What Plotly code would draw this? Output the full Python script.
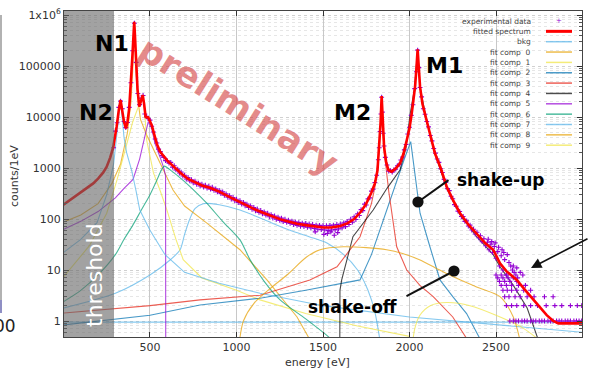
import math
import plotly.graph_objects as go

# ---------------- data ----------------
fit_pts = [(0,190),(30,225),(70,280),(100,330),(140,410),(172,500),(200,620),(230,820),(250,1060),(270,1600),
           (288,2600),(300,4300),(307,6400),(320,14000),(330,21500),
           (340,13000),(350,8000),(361,6000),(370,8000),(380,15000),(390,45000),(398,150000),(405,420000),
           (409,740000),(413,400000),(420,120000),(428,35000),(438,16000),(448,20000),(458,27000),(466,18000),
           (475,10000),(490,9800),(510,6900),(539,3000),(558,2100),(600,1400),(640,1040),(680,780),(720,610),
           (760,520),(800,455),(850,405),(900,345),(950,282),(1000,230),(1050,192),(1100,158),(1150,134),
           (1200,115),(1250,99.5),(1300,89),(1350,80.5),(1400,76),(1450,71),(1500,68),(1550,68.5),(1600,73),
           (1640,82),(1680,100),(1720,140),(1750,200),(1780,330),(1800,500),(1815,900),(1825,2600),(1833,8000),
           (1839,25800),(1845,8000),(1853,2600),(1865,1300),(1878,915),(1897,850),(1920,980),(1945,1230),
           (1965,1900),(1984,3500),(2000,6000),(2013,11800),(2025,24000),(2032,39000),(2040,90000),(2047,213000),
           (2054,90000),(2061,39000),(2075,18000),(2099,8700),(2120,4500),(2147,1950),(2180,1000),(2215,430),
           (2250,240),(2292,130),(2340,78),(2388,52),(2440,33),(2484,25),(2523,13.5),(2560,9.5),(2620,6.4),
           (2670,4.0),(2716,2.6),(2760,1.8),(2793,1.3),(2831,1.0),(2860,0.9),(3000,0.9)]

exp_a_e = list(range(290, 601, 10))
exp_a_v = [2500,5300,7700,15500,20500,14500,8200,6200,7800,15500,47000,200000,690000,118000,29000,17500,
           23500,26500,11500,10300,9300,8700,6600,5100,3700,3100,2350,2100,1750,1620,1400,1390]
exp_b_e = list(range(610, 1801, 10))
exp_b_v = [1250,1290,1040,1110,920,950,800,830,700,720,610,650,560,590,515,550,480,505,445,480,
           425,460,405,440,385,420,365,390,340,365,315,340,292,312,268,287,247,265,228,244,
           211,228,196,212,182,196,168,181,155,168,145,157,135,147,127,138,119,130,111,122,
           105,115,99,109,94,104,89,99,86,95,82,91,78,88,75,85,72,83,71,82,
           69,80,67,78,65,76,63,75,62,74,61,74,60,75,61,76,62,78,64,80,
           67,84,71,90,78,99,87,110,98,126,117,153,146,196,188,248,260,352,385,520]
exp_c_pts = [(1810,720),(1820,1450),(1825,2500),(1830,5200),(1835,11500),(1839,24500),(1843,12500),(1848,4800),
             (1853,2700),(1860,1620),(1870,1150),(1880,870),(1890,890),(1900,830),(1910,930),(1920,950),
             (1930,1110),(1940,1160),(1950,1440),(1960,1650),(1970,2270),(1980,2900),(1990,4650),(2000,6300),
             (2010,10800),(2020,17400),(2030,36000),(2040,77000),(2047,205000),(2054,93000),(2061,38000),
             (2070,24800),(2080,14500),(2090,11300),(2100,8200)]
exp_d_e = list(range(2110, 2561, 10))
exp_d_v = [6400,4350,3400,2420,1960,1500,1290,970,815,600,520,395,360,280,250,192,178,143,140,112,
           112,90,92,73,76,61,63,51,55,43,47,36,41,30,35,25,32,22,29,17,23,12,19,10,16,8]
exp_extra_pts = [(1455,56),(1505,50),(1525,52),(1545,56),(1565,48),(1585,54),(2455,40),(2475,36),(2495,34),
                 (2515,28),(2535,25),(2545,22),(2565,20),(2575,14),(2585,12),(2595,10),(2600,12),(2605,9),
                 (2615,8),(2620,11),(2625,7),(2640,9),(2655,8)]
tail_rows = {
    1: [2580,2600,2615,2630,2650,2665,2680,2700,2715,2730,2750,2765,2780,2800,2815,2830,2850,2865,2880,2900,
        2915,2930,2950,2965,2980,2995],
    2: [2560,2590,2620,2660,2700,2740,2790,2840,2880,2930,2970,2995],
    3: [2550,2575,2610,2640,2680,2720,2780,2830],
    4: [2540,2565,2590,2620,2660,2700],
    5: [2530,2560,2590,2630,2670],
    6: [2520,2550,2580,2620],
    7: [2510,2540,2570,2600],
    8: [2500,2530,2560],
}

# (name, colour, smooth?, points)
components = [
    ("bkg", "#56b4e9", True, [(0,1.8),(300,3.5),(500,8),(616,15.7),(674,25),(700,50),(730,100),(760,160),(808,200),
                             (900,190),(1020,150),(1150,100),(1309,60),(1420,45),(1523,34),(1620,20),(1700,10),
                             (1760,4),(1800,1.5),(1830,0.4)]),
    ("bkg", "#56b4e9", False, [(0,0.95),(3000,0.95)]),
    ("fit comp  0", "#e69f00", False, [(0,87),(100,120),(200,200),(280,500),(330,1200),(370,5000),(390,20000),(400,80000),
                                      (405,300000),(409,700000),(413,300000),(418,90000),(428,25000),(445,9000),(480,4500),
                                      (517,2500),(560,1200),(633,370),(700,180),(829,83),(1020,25),(1176,6.4),(1350,1.2),(1450,0.3)]),
    ("fit comp  1", "#f0e442", False, [(0,7.3),(150,30),(250,130),(309,580),(360,2500),(400,8000),(430,15000),(450,24000),
                                      (458,26000),(466,18000),(481,3500),(520,800),(560,350),(598,150),(650,40),(692,16),
                                      (800,7),(1000,4),(1136,2.6),(1400,1.4),(1700,0.8),(2000,0.5)]),
    ("fit comp  2", "#0072b2", False, [(0,0.84),(500,1.3),(789,2.06),(1136,2.8),(1400,4),(1600,5.5),(1714,6.4),(1780,20),
                                      (1829,61),(1880,200),(1926,580),(1970,1500),(2007,3300),(2020,1500),(2032,580),
                                      (2061,130),(2118,28.6),(2176,6.4),(2250,3),(2330,1.4),(2407,0.45)]),
    ("fit comp  3", "#e51e10", False, [(0,1.43),(500,2.0),(789,2.6),(1136,3.2),(1424,6.4),(1581,11.6),(1714,45),(1780,200),
                                      (1800,420),(1825,2200),(1835,9000),(1839,25000),(1843,9000),(1853,2200),(1880,350),
                                      (1926,28.6),(1984,10),(2060,5),(2137,3),(2250,1.2),(2331,0.45)]),
    ("fit comp  4", "#000000", False, [(1597,0.3),(1598,4),(1608,6.4),(1673,45),(1790,150),(1870,400),(1945,915),(1980,2500),
                                      (2003,11000),(2030,38000),(2047,213000),(2061,38000),(2099,8500),(2147,1900),(2215,400),
                                      (2292,120),(2388,45),(2484,20),(2523,11.6),(2600,5),(2680,1.8),(2735,0.55),(2760,0.3)]),
    ("fit comp  5", "#9400d3", False, [(0,63),(100,90),(200,140),(300,260),(350,400),(402,600),(440,1500),(470,4500),
                                      (490,8100),(510,6000),(529,3000),(558,1650),(580,1000),(590,700),(591,0.3)]),
    ("fit comp  6", "#009e73", True, [(0,2.4),(100,4),(200,8),(300,20),(350,40),(400,75),(450,150),(500,300),(540,580),
                                     (565,900),(583,1090),(620,900),(690,580),(760,350),(828,205),(920,90),(1020,39),
                                     (1078,16),(1160,6),(1252,2.6),(1400,1.1),(1529,0.5),(1560,0.4)]),
    ("fit comp  7", "#56b4e9", False, [(0,22),(100,40),(194,85),(250,300),(290,1200),(310,4500),(320,10000),(326,17000),
                                      (329,20500),(332,17000),(338,10000),(350,4000),(365,2000),(380,1300),(394,900),
                                      (420,350),(441,150),(500,60),(587,20),(700,9),(900,5.5),(1136,3.5),(1500,2),
                                      (2000,1.2),(3000,0.6)]),
    ("fit comp  8", "#e69f00", True, [(1017,0.4),(1040,1.0),(1100,2.2),(1200,4.5),(1292,8),(1405,18),(1483,25),(1617,28.6),
                                     (1750,27.5),(1868,25),(1960,21),(2061,15.7),(2150,11),(2252,7.4),(2400,4.5),
                                     (2523,3.0),(2600,1.2),(2640,0.4)]),
    ("fit comp  9", "#f0e442", True, [(2015,0.3),(2030,0.7),(2060,1.3),(2120,2.0),(2215,2.3),(2350,2.0),(2500,1.3),
                                     (2650,0.75),(2740,0.45)]),
]

legend_names = ["experimental data", "fitted spectrum", "bkg"] + ["fit comp  %d" % i for i in range(10)]
legend_colors = ["#9400d3", "#ff0000", "#56b4e9", "#e69f00", "#f0e442", "#0072b2", "#e51e10", "#000000",
                 "#9400d3", "#009e73", "#56b4e9", "#e69f00", "#f0e442"]

x_ticks = [500, 1000, 1500, 2000, 2500]
y_ticks = [1, 10, 100, 1000, 10000, 100000, 1000000]
y_ticktext = ["1", "10", "100", "1000", "10000", "100000", "1x10<sup>6</sup>"]

# ---------------- figure ----------------
W, H = 589, 369
L, R, T, B = 64, 7, 11, 32
PW, PH = W - L - R, H - T - B


def px(x, y):
    return (x - L) / PW, (H - B - y) / PH


def rgba(hexc, a):
    h = hexc.lstrip("#")
    return "rgba(%d,%d,%d,%.2f)" % (int(h[0:2], 16), int(h[2:4], 16), int(h[4:6], 16), a)


fig = go.Figure()

for name, col, smooth, pts in components:
    e, v = zip(*pts)
    fig.add_trace(go.Scatter(x=e, y=v, mode="lines", name=name, showlegend=False, hoverinfo="skip",
                             line=dict(color=rgba(col, 0.72), width=1.1,
                                       shape="spline" if smooth else "linear", smoothing=0.8)))

exp_e = exp_a_e + exp_b_e + [p[0] for p in exp_c_pts] + exp_d_e + [p[0] for p in exp_extra_pts]
exp_v = exp_a_v + exp_b_v + [p[1] for p in exp_c_pts] + exp_d_v + [p[1] for p in exp_extra_pts]
for lvl, es in tail_rows.items():
    exp_e += es
    exp_v += [lvl] * len(es)

fig.add_trace(go.Scatter(x=exp_e, y=exp_v, mode="markers", name="experimental data", showlegend=False,
                         marker=dict(symbol="cross-thin", size=3.5, color="#9400d3",
                                     line=dict(color="#9400d3", width=1.1))))

fe, fv = zip(*fit_pts)
fig.add_trace(go.Scatter(x=fe, y=fv, mode="lines", name="fitted spectrum", showlegend=False,
                         line=dict(color="#ff0000", width=2.6)))

shapes = []
annotations = []

# threshold shading
shapes.append(dict(type="rect", xref="x", yref="paper", x0=0, x1=292, y0=0, y1=1,
                   fillcolor="rgba(100,100,100,0.6)", line=dict(width=0), layer="above"))

# legend (gnuplot style: text right, sample at right)
for i, (nm, col) in enumerate(zip(legend_names, legend_colors)):
    yy = 21 + 10.35 * i
    tx, ty = px(533, yy)
    annotations.append(dict(x=tx, y=ty, xref="paper", yref="paper", text=nm, showarrow=False,
                            xanchor="right", yanchor="middle", font=dict(size=7.5, color="#444")))
    x0, y0 = px(546, yy)
    x1, _ = px(572, yy)
    if i == 0:
        cx, cy = px(559, yy)
        annotations.append(dict(x=cx, y=cy, xref="paper", yref="paper", text="+", showarrow=False,
                                xanchor="center", yanchor="middle", font=dict(size=7, color=col)))
    else:
        shapes.append(dict(type="line", xref="paper", yref="paper", x0=x0, x1=x1, y0=y0, y1=y0,
                           line=dict(color=rgba(col, 0.7) if i > 1 else col, width=3 if i == 1 else 1.5)))


def text_at(x, y, txt, size, color="#000", bold=True, angle=0, xanchor="center", yanchor="middle"):
    ax_, ay_ = px(x, y)
    annotations.append(dict(x=ax_, y=ay_, xref="paper", yref="paper", text=txt, showarrow=False,
                            textangle=angle, xanchor=xanchor, yanchor=yanchor,
                            font=dict(size=size, color=color, weight="bold" if bold else "normal")))


text_at(112, 43, "N1", 22)
text_at(96, 112, "N2", 22)
text_at(352, 112, "M2", 22)
text_at(444, 65, "M1", 22)
text_at(500, 180, "shake-up", 17)
text_at(352, 307, "shake-off", 17)
text_at(238, 106, "preliminary", 35, color="rgba(210,60,60,0.6)", angle=32)
text_at(94, 275, "threshold", 22, color="#ffffff", bold=False, angle=-90)
text_at(14, 176, "counts/1eV", 11, color="#333", bold=False, angle=-90)
text_at(317, 362, "energy [eV]", 11, color="#333", bold=False)
text_at(18, 326, "00", 17, color="#222", bold=False, xanchor="right")


def arrow(hx, hy, tx, ty, head, size, width):
    ax_, ay_ = px(hx, hy)
    annotations.append(dict(x=ax_, y=ay_, xref="paper", yref="paper", text="", showarrow=True,
                            ax=tx - hx, ay=ty - hy, axref="pixel", ayref="pixel",
                            arrowhead=head, arrowsize=size, arrowwidth=width, arrowcolor="#111"))


arrow(418, 202, 450, 179, 6, 1.4, 2)
arrow(454, 271, 405, 297, 6, 1.4, 2)
arrow(531, 268, 589, 238, 2, 1.3, 1.6)

# stray edge of neighbouring figure at far left
lx0, ly0 = px(1, 15)
lx1, ly1 = px(1, 300)
lx2, ly2 = px(1, 313)
shapes.append(dict(type="line", xref="paper", yref="paper", x0=lx0, x1=lx1, y0=ly0, y1=ly1,
                   line=dict(color="#999", width=1.5)))
shapes.append(dict(type="line", xref="paper", yref="paper", x0=lx1, x1=lx2, y0=ly1, y1=ly2,
                   line=dict(color="#6a6ab0", width=1.5)))

minor_vals = [m * 10 ** d for d in range(-1, 7) for m in range(2, 10)]

fig.update_layout(
    width=W, height=H, margin=dict(l=L, r=R, t=T, b=B),
    paper_bgcolor="white", plot_bgcolor="white",
    font=dict(family="DejaVu Sans", size=11, color="#333"),
    showlegend=False, shapes=shapes, annotations=annotations,
    xaxis=dict(range=[3, 2997], tickvals=x_ticks, ticks="inside", ticklen=5, tickcolor="#333",
               showline=True, linecolor="#444", linewidth=1, mirror="ticks",
               showgrid=True, gridcolor="#c8c8c8", gridwidth=1, zeroline=False,
               tickfont=dict(size=11, color="#333")),
    yaxis=dict(type="log", range=[math.log10(0.486), math.log10(1.2e6)], tickvals=y_ticks, ticktext=y_ticktext,
               ticks="inside", ticklen=5, tickcolor="#333", showline=True, linecolor="#444", linewidth=1,
               mirror="ticks", showgrid=True, gridcolor="#d0d0d0", griddash="dot", zeroline=False,
               tickfont=dict(size=11, color="#333"),
               minor=dict(tickmode="array", tickvals=minor_vals, ticks="inside", ticklen=3, tickcolor="#555",
                          showgrid=True, gridcolor="#e6e6e6", griddash="dot")),
)

fig.write_html("out.html")
